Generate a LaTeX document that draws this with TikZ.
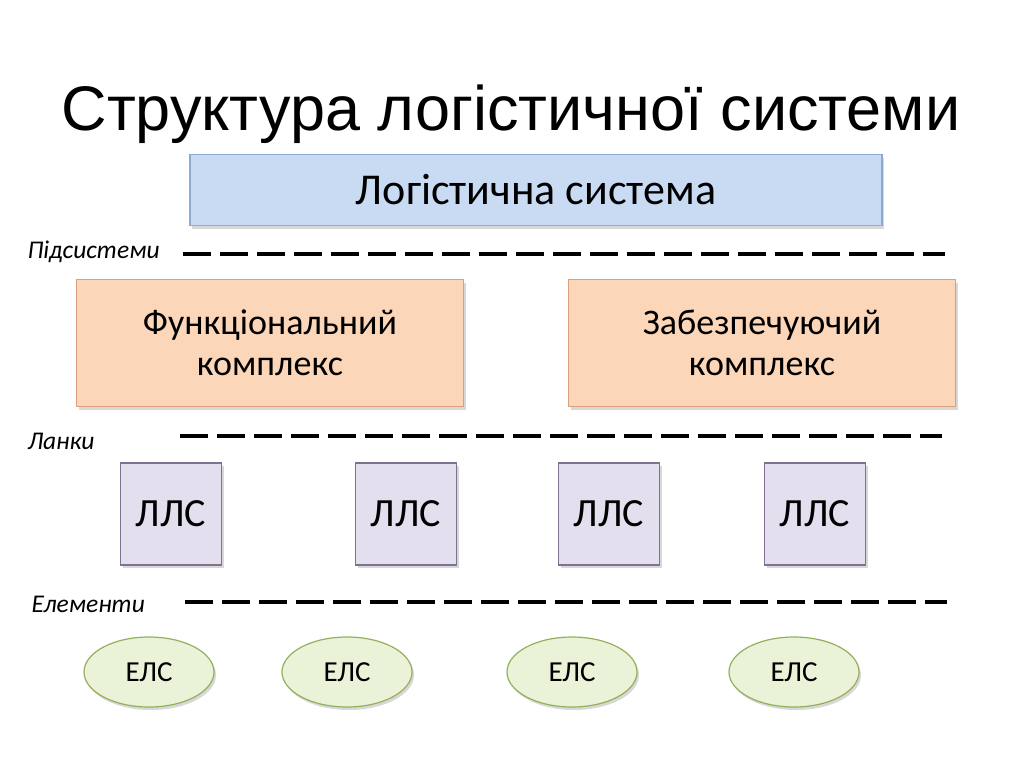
\documentclass[tikz,border=0pt]{standalone}
\usepackage{fontspec}
\setmainfont{Carlito}
\newfontfamily\titlefont{Liberation Sans}
\usetikzlibrary{shapes.geometric,shadows}

\definecolor{sysfill}{HTML}{C9DAF3}
\definecolor{sysdraw}{HTML}{8EAAD3}
\definecolor{cplfill}{HTML}{FBD6B8}
\definecolor{cpldraw}{HTML}{D9A07A}
\definecolor{llsfill}{HTML}{E4DFEE}
\definecolor{llsdraw}{HTML}{7F7190}
\definecolor{elsfill}{HTML}{EAF2D8}
\definecolor{elsdraw}{HTML}{93B05A}

\begin{document}
\begin{tikzpicture}[x=1pt,y=-1pt,
    shade/.style={drop shadow={shadow xshift=2pt,shadow yshift=-3pt,opacity=0.3}},
    sysbox/.style={draw=sysdraw,fill=sysfill,line width=1.2pt,shade,
      minimum width=692pt,minimum height=71pt},
    cplbox/.style={draw=cpldraw,fill=cplfill,line width=1.2pt,shade,
      minimum width=387pt,minimum height=127pt,align=center,
      font=\fontsize{36}{41}\selectfont},
    llsbox/.style={draw=llsdraw,fill=llsfill,line width=1.2pt,shade,
      minimum width=101pt,minimum height=102pt,
      font=\fontsize{40}{44}\selectfont},
    elsbox/.style={ellipse,draw=elsdraw,fill=elsfill,line width=1.2pt,shade,
      minimum width=130pt,minimum height=70pt,
      font=\fontsize{29}{32}\selectfont},
    levellabel/.style={anchor=west,font=\itshape\fontsize{25.5}{28}\selectfont},
    dashline/.style={line width=3.5pt,dash pattern=on 28pt off 9pt}]

  \useasboundingbox[fill=white] (0,0) rectangle (1024,768);

  % title
  \node (title) at (511,114) {\titlefont\fontsize{63}{68}\selectfont Структура логістичної системи};

  % system
  \node[sysbox] (sys) at (536,190) {\fontsize{44}{48}\selectfont Логістична система};

  % level labels
  \node[levellabel] (subsys) at (24,252) {Підсистеми};
  \node[levellabel] (links)  at (24,441) {Ланки};
  \node[levellabel] (elems)  at (28,604) {Елементи};

  % dashed separators
  \coordinate (d1s) at (183,254);
  \coordinate (d1e) at (945,254);
  \coordinate (d2s) at (180,436);
  \coordinate (d2e) at (942,436);
  \coordinate (d3s) at (185,602);
  \coordinate (d3e) at (947,602);
  \draw[dashline] (d1s) -- (d1e);
  \draw[dashline] (d2s) -- (d2e);
  \draw[dashline] (d3s) -- (d3e);

  % subsystems
  \node[cplbox] (func) at (270,343) {Функціональний\\комплекс};
  \node[cplbox] (supp) at (762,343) {Забезпечуючий\\комплекс};

  % links
  \node[llsbox] (lls1) at (171,514) {ЛЛС};
  \node[llsbox] (lls2) at (406,514) {ЛЛС};
  \node[llsbox] (lls3) at (609,514) {ЛЛС};
  \node[llsbox] (lls4) at (815,514) {ЛЛС};

  % elements
  \node[elsbox] (els1) at (149,672) {ЕЛС};
  \node[elsbox] (els2) at (347,672) {ЕЛС};
  \node[elsbox] (els3) at (572,672) {ЕЛС};
  \node[elsbox] (els4) at (794,672) {ЕЛС};

\end{tikzpicture}
\end{document}
